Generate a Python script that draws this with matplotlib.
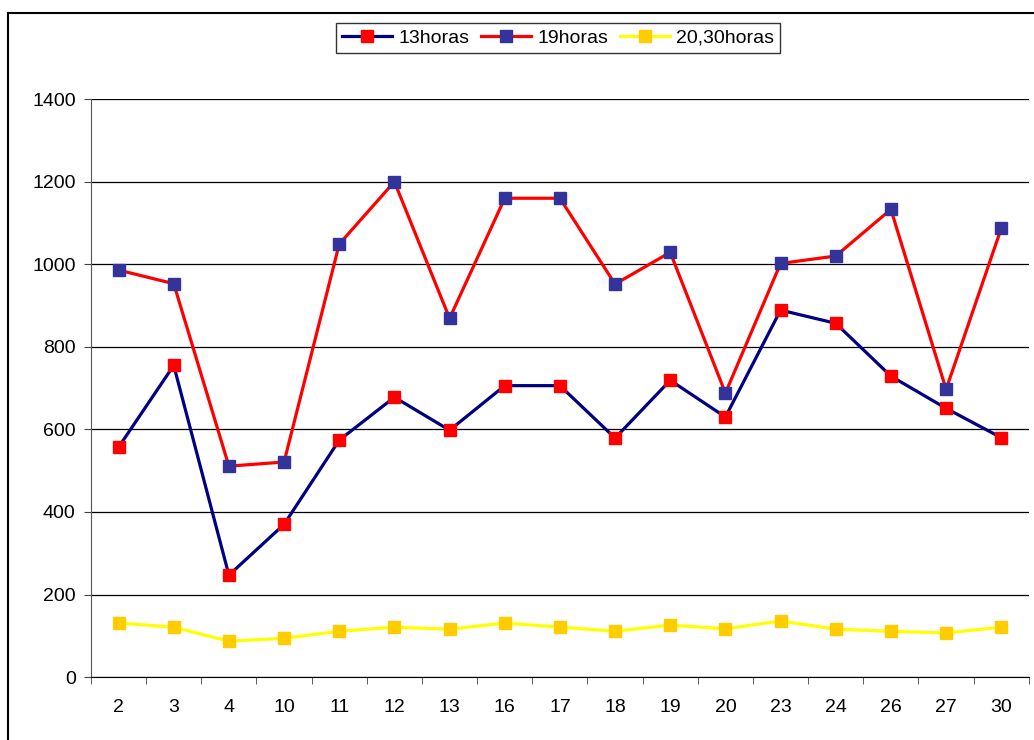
import matplotlib.pyplot as plt
from matplotlib.lines import Line2D

# Data

dias = ["2", "3", "4", "10", "11", "12", "13", "16", "17",
        "18", "19", "20", "23", "24", "26", "27", "30"]

h13 = [557, 755, 247, 370, 574, 678, 598, 706, 706,
       579, 719, 630, 889, 857, 729, 651, 580]

h19 = [986, 953, 511, 521, 1049, 1200, 869, 1160, 1160,
       952, 1029, 688, 1002, 1020, 1133, 697, 1087]

h2030 = [131, 121, 87, 94, 111, 121, 116, 131, 121,
         111, 126, 117, 136, 116, 111, 107, 121]


plt.rcParams["font.family"] = ["Liberation Sans", "DejaVu Sans"]

fig = plt.figure(figsize=(10.34, 7.4), dpi=100)
ax = fig.add_axes([0.088, 0.085, 0.907, 0.781])

# outer frame (chart area border)
fig.add_artist(Line2D([8 / 1034, 8 / 1034], [0, 1 - 13 / 740],
                      transform=fig.transFigure, color="black", lw=1.5))
fig.add_artist(Line2D([8 / 1034, 1], [1 - 13 / 740, 1 - 13 / 740],
                      transform=fig.transFigure, color="black", lw=1.5))

x = list(range(len(dias)))

ax.plot(x, h13, color="#000080", lw=2.3, marker="s", markersize=8,
        markerfacecolor="#FF0000", markeredgecolor="#FF0000", label="13horas", zorder=3)
ax.plot(x, h19, color="#FF0000", lw=2.3, marker="s", markersize=8,
        markerfacecolor="#333399", markeredgecolor="#333399", label="19horas", zorder=3)
ax.plot(x, h2030, color="#FFFF00", lw=2.3, marker="s", markersize=8,
        markerfacecolor="#FFCC00", markeredgecolor="#FFCC00", label="20,30horas", zorder=3)

ax.set_xlim(-0.5, len(dias) - 0.5)
ax.set_ylim(0, 1400)
ax.set_yticks(range(0, 1401, 200))

ax.set_xticks(x)
ax.set_xticklabels(dias, fontsize=14)
ax.set_xticks([i - 0.5 for i in range(len(dias) + 1)], minor=True)
ax.tick_params(axis="x", which="major", length=0, pad=16)
ax.tick_params(axis="x", which="minor", length=5, direction="out", color="#444444")
ax.tick_params(axis="y", length=5, direction="out", labelsize=14, pad=6, color="#444444")

ax.yaxis.grid(True, color="black", lw=0.9)
ax.set_axisbelow(True)

ax.spines["top"].set_visible(False)
ax.spines["right"].set_visible(False)
ax.spines["left"].set_color("#555555")
ax.spines["bottom"].set_color("black")

leg = ax.legend(loc="center", bbox_to_anchor=(558 / 1034, 1 - 38 / 740),
                bbox_transform=fig.transFigure, ncol=3, fontsize=14,
                frameon=True, fancybox=False, edgecolor="black",
                handlelength=2.6, columnspacing=0.6, handletextpad=0.3,
                borderpad=0.3, borderaxespad=0)
leg.get_frame().set_linewidth(1.0)

plt.savefig("out.png", dpi=100)
